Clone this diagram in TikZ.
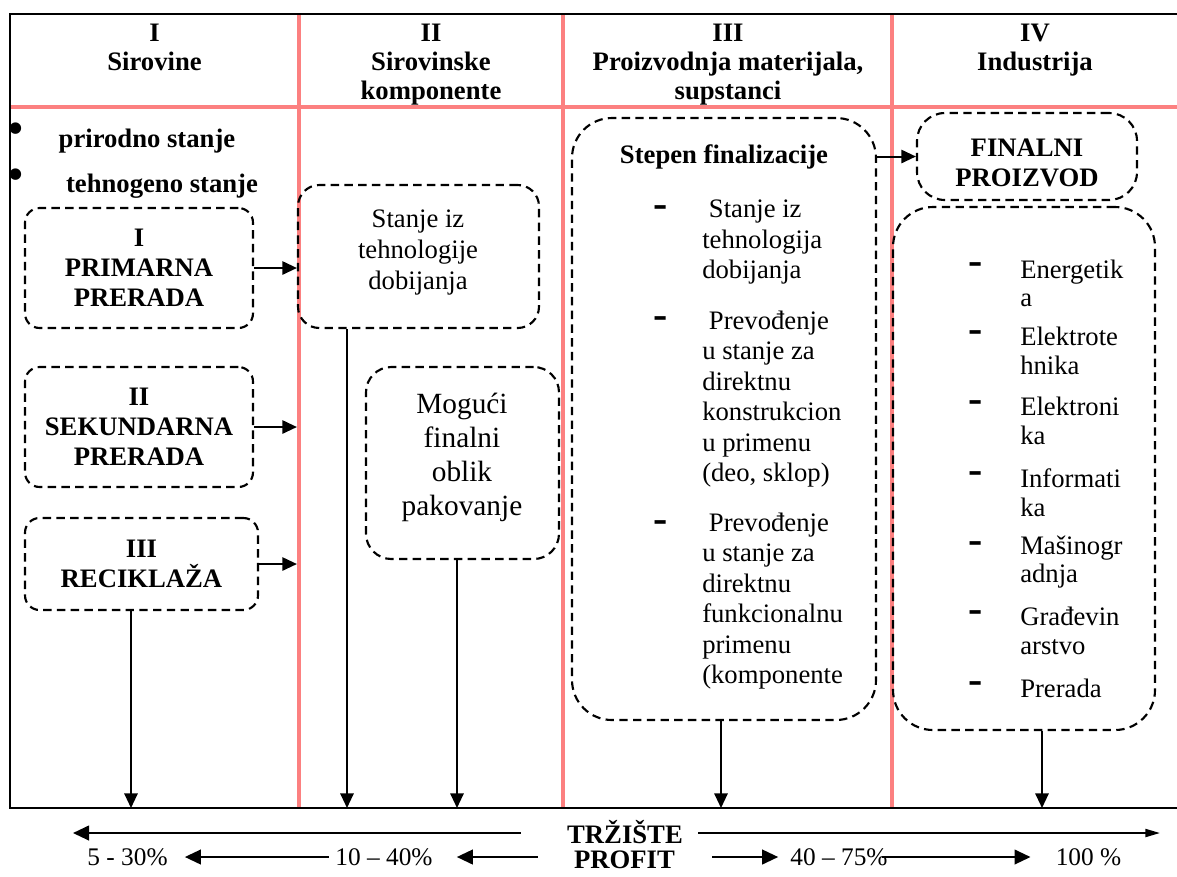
\documentclass[tikz,border=0pt]{standalone}
\usepackage{fontspec}
\setmainfont{Liberation Serif}
\usetikzlibrary{arrows.meta}
\definecolor{gridpink}{RGB}{252,128,128}
\newcommand\fsz[2]{\fontsize{#1}{#2}\selectfont}
\begin{document}
\begin{tikzpicture}[x=0.75pt,y=-0.75pt,
  frame/.style={line width=1.6pt,draw=black},
  colline/.style={line width=2.6pt,draw=gridpink},
  dbox/.style n args={3}{draw,line width=1.6pt,dash pattern=on 6.3pt off 4pt,
    rounded corners=#3,minimum width=#1,minimum height=#2,inner sep=0pt},
  hdr/.style={font=\fsz{20}{21.75}\bfseries,align=center,inner sep=0pt,anchor=north},
  bt/.style={font=\fsz{20}{22.5}\bfseries,align=center,inner sep=0pt},
  rt/.style={font=\fsz{20}{23.25},align=center,inner sep=0pt},
  lt/.style={font=\fsz{20}{22.8},align=left,anchor=west,inner sep=0pt},
  it/.style={font=\fsz{20}{21.4},align=left,anchor=west,inner sep=0pt},
  tick/.style={font=\fsz{32}{34}\bfseries,inner sep=0pt,anchor=base},
  dot/.style={font=\fsz{36}{38},inner sep=0pt},
  pct/.style={font=\fsz{19}{22},inner sep=0pt},
  arr/.style={line width=1.5pt,-{Triangle[length=11pt,width=10pt]}},
  warr/.style={line width=1.5pt,-{Triangle[length=12pt,width=11pt]}},
  narr/.style={line width=1.5pt,-{Triangle[length=11pt,width=6pt]}},
]
\useasboundingbox (0,0) rectangle (1177,876);

% table grid
\draw[colline] (10,107) -- (1177,107);
\draw[colline] (299,14) -- (299,808);
\draw[colline] (563,14) -- (563,808);
\draw[colline] (892,14) -- (892,808);
\draw[frame] (1177,14) -- (10,14) -- (10,808) -- (1177,808);

% column headings
\node[hdr] (h1) at (154.5,24) {I\\Sirovine};
\node[hdr] (h2) at (431,24) {II\\Sirovinske\\komponente};
\node[hdr] (h3) at (728,24) {III\\Proizvodnja materijala,\\supstanci};
\node[hdr] (h4) at (1035,24) {IV\\Industrija};

% column I: raw materials
\node[dot] (b1) at (16,134) {\textbullet};
\node[bt] (t1) at (147,141) {prirodno stanje};
\node[dot] (b2) at (16,180) {\textbullet};
\node[bt] (t2) at (162,186) {tehnogeno stanje};
\node[dbox={171pt}{90pt}{11pt},bt] (pI) at (139,268) {I\\PRIMARNA\\PRERADA};
\node[dbox={171pt}{90pt}{11pt},bt] (pII) at (139,427) {II\\SEKUNDARNA\\PRERADA};
\node[dbox={174.75pt}{69pt}{11pt},bt] (pIII) at (141.5,564) {III\\RECIKLAŽA};

% column II: raw components
\node[dbox={180.75pt}{107.25pt}{16pt}] (st) at (418.5,256.5) {};
\node[rt] (stT) at (418,252) {Stanje iz\\tehnologije\\dobijanja};
\node[dbox={144.75pt}{144pt}{19pt}] (mg) at (462.5,463) {};
\node[rt,font=\fsz{22}{25.5}] (mgT) at (462,457) {Mogući\\finalni\\oblik\\pakovanje};

% column III: materials
\node[dbox={228pt}{451.5pt}{30pt}] (sf) at (724,419) {};
\node[bt] (sfT) at (724,157) {Stepen finalizacije};
\node[tick] (d1) at (661,217) {-};
\node[tick] (d2) at (661,328) {-};
\node[tick] (d3) at (661,532) {-};
\node[lt] (s1) at (702,242) {\hspace*{5pt}Stanje iz\\tehnologija\\dobijanja};
\node[lt] (s2) at (702,399) {\hspace*{5pt}Prevođenje\\u stanje za\\direktnu\\konstrukcion\\u primenu\\(deo, sklop)};
\node[lt] (s3) at (702,601) {\hspace*{5pt}Prevođenje\\u stanje za\\direktnu\\funkcionalnu\\primenu\\(komponente};

% column IV: industry
\node[dbox={165pt}{65.25pt}{21pt}] (fp) at (1027,156.5) {};
\node[bt] (fpT) at (1027,163) {FINALNI\\PROIZVOD};
\node[dbox={196.5pt}{392.25pt}{30pt}] (ls) at (1024,468.5) {};
\node[tick] (k1) at (976,274) {-};
\node[tick] (k2) at (976,342) {-};
\node[tick] (k3) at (976,412) {-};
\node[tick] (k4) at (976,483) {-};
\node[tick] (k5) at (976,553) {-};
\node[tick] (k6) at (976,622) {-};
\node[tick] (k7) at (976,693) {-};
\node[it] (e1) at (1020,283.5) {Energetik\\a};
\node[it] (e2) at (1020,351) {Elektrote\\hnika};
\node[it] (e3) at (1020,421) {Elektroni\\ka};
\node[it] (e4) at (1020,492.5) {Informati\\ka};
\node[it] (e5) at (1020,562) {Mašinogr\\adnja};
\node[it] (e6) at (1020,631) {Građevin\\arstvo};
\node[it] (e7) at (1020,688) {Prerada};

% flows between the stages
\draw[arr] (pI.east) -- (pI.east -| st.west);
\draw[arr] (pII.east) -- (pII.east -| st.west);
\draw[arr] (pIII.east) -- (pIII.east -| st.west);
\draw[arr] (fp.west -| sf.east) -- (fp.west);

% flows down to the market
\coordinate (m1) at (131,808);
\coordinate (m2) at (347,808);
\coordinate (m3) at (457,808);
\coordinate (m4) at (721,808);
\coordinate (m5) at (1042,808);
\draw[arr] (m1 |- pIII.south) -- (m1);
\draw[arr] (m2 |- st.south) -- (m2);
\draw[arr] (m3 |- mg.south) -- (m3);
\draw[arr] (m4 |- sf.south) -- (m4);
\draw[arr] (m5 |- ls.south) -- (m5);

% market and profit scale
\node[bt] (trz) at (625,832) {TRŽIŠTE};
\node[bt] (prof) at (624.5,860) {PROFIT};
\coordinate (endL) at (73,833);
\coordinate (endR) at (1160,833);
\draw[warr,shorten <=34.5pt] (trz.west |- endL) -- (endL);
\draw[narr,shorten <=11.25pt] (trz.east |- endR) -- (endR);

\node[pct] (p1) at (127.5,857) {5 - 30\%};
\node[pct] (p2) at (384,857) {10 – 40\%};
\node[pct] (p3) at (839,857) {40 – 75\%};
\node[pct] (p4) at (1088.5,857) {100 \%};
\draw[warr,shorten <=5pt,shorten >=12.75pt] (p2.west) -- (p1.east);
\draw[warr,shorten <=27pt,shorten >=18pt] (p2.east -| prof.west) -- (p2.east);
\draw[warr,shorten <=27.75pt,shorten >=9pt] (p3.west -| prof.east) -- (p3.west);
\draw[warr,shorten <=-4.5pt,shorten >=18.75pt] (p3.east) -- (p4.west);
\end{tikzpicture}
\end{document}
